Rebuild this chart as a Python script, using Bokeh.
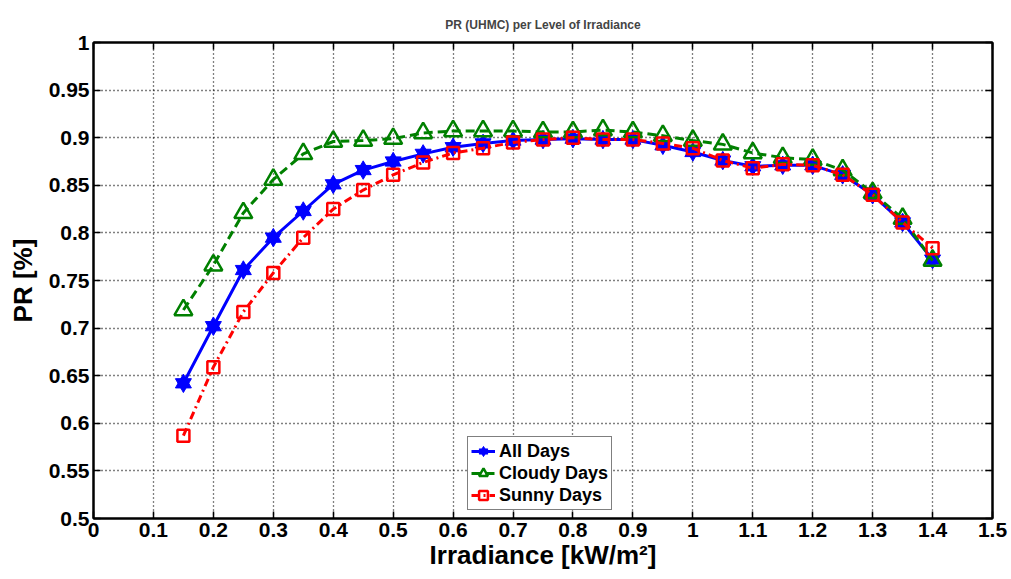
from bokeh.plotting import figure
from bokeh.models import (LinearAxis, FixedTicker, Range1d, Legend, LegendItem,
                          CustomLabelingPolicy)
from bokeh.embed import file_html
from bokeh.resources import INLINE

# ---- data ----
irradiance = [0.15, 0.2, 0.25, 0.3, 0.35, 0.4, 0.45, 0.5, 0.55, 0.6, 0.65, 0.7, 0.75,
              0.8, 0.85, 0.9, 0.95, 1.0, 1.05, 1.1, 1.15, 1.2, 1.25, 1.3, 1.35, 1.4]
all_days = [0.642, 0.702, 0.761, 0.795, 0.823, 0.851, 0.866, 0.875, 0.883, 0.890, 0.894,
            0.897, 0.898, 0.899, 0.898, 0.898, 0.892, 0.885, 0.876, 0.870, 0.871, 0.871,
            0.861, 0.840, 0.811, 0.772]
cloudy_days = [0.719, 0.766, 0.821, 0.856, 0.883, 0.896, 0.897, 0.899, 0.905, 0.907, 0.907,
               0.907, 0.906, 0.906, 0.908, 0.906, 0.902, 0.897, 0.893, 0.884, 0.879, 0.877,
               0.866, 0.842, 0.815, 0.771]
sunny_days = [0.587, 0.659, 0.717, 0.758, 0.795, 0.825, 0.845, 0.861, 0.874, 0.884, 0.889,
              0.895, 0.898, 0.900, 0.898, 0.898, 0.894, 0.889, 0.876, 0.868, 0.872, 0.871,
              0.861, 0.840, 0.811, 0.784]
x_ticks = [0, 0.1, 0.2, 0.3, 0.4, 0.5, 0.6, 0.7, 0.8, 0.9, 1.0, 1.1, 1.2, 1.3, 1.4, 1.5]
x_tick_labels = ["0", "0.1", "0.2", "0.3", "0.4", "0.5", "0.6", "0.7", "0.8", "0.9", "1",
                 "1.1", "1.2", "1.3", "1.4", "1.5"]
y_ticks = [0.5, 0.55, 0.6, 0.65, 0.7, 0.75, 0.8, 0.85, 0.9, 0.95, 1.0]
y_tick_labels = ["0.5", "0.55", "0.6", "0.65", "0.7", "0.75", "0.8", "0.85", "0.9", "0.95", "1"]

FONT = "Liberation Sans"

p = figure(width=1011, height=579, output_backend="svg", toolbar_location=None,
           x_range=Range1d(0, 1.5), y_range=Range1d(0.5, 1.0),
           min_border_left=93, min_border_right=19, min_border_top=42, min_border_bottom=61,
           title="PR (UHMC) per Level of Irradiance")
p.background_fill_color = "white"
p.border_fill_color = "white"
p.outline_line_color = "black"
p.outline_line_width = 2

p.title.align = "center"
p.title.text_font = FONT
p.title.text_font_size = "12px"
p.title.text_font_style = "bold"
p.title.standoff = 14

hide_labels = CustomLabelingPolicy(code="""
try { for (const i of Array.from(indices)) { indices.unset(i) } } catch (e) {}
return indices
""")

def style_axis(ax, ticks, labels, show_labels=True):
    ax.ticker = FixedTicker(ticks=ticks)
    ax.major_label_overrides = {t: l for t, l in zip(ticks, labels)}
    ax.major_tick_in = 7
    ax.major_tick_out = 0
    ax.minor_tick_line_color = None
    ax.major_tick_line_color = "black"
    ax.major_tick_line_width = 1.5
    ax.axis_line_color = "black"
    ax.axis_line_width = 2
    ax.major_label_text_font = FONT
    ax.major_label_text_font_style = "bold"
    ax.major_label_text_color = "black"
    if show_labels:
        ax.major_label_text_font_size = "21px"
    else:
        ax.major_label_text_font_size = "1px"
        ax.major_label_standoff = 0
        ax.major_label_policy = hide_labels

style_axis(p.xaxis[0], x_ticks, x_tick_labels)
style_axis(p.yaxis[0], y_ticks, y_tick_labels)
p.xaxis[0].major_label_standoff = 4
p.yaxis[0].major_label_standoff = 4

p.xaxis[0].axis_label = "Irradiance [kW/m\u00b2]"
p.yaxis[0].axis_label = "PR [%]"
for ax in (p.xaxis[0], p.yaxis[0]):
    ax.axis_label_text_font = FONT
    ax.axis_label_text_font_style = "bold"
    ax.axis_label_text_font_size = "26px"
    ax.axis_label_text_color = "black"
p.xaxis[0].axis_label_standoff = 0
p.yaxis[0].axis_label_standoff = 8

top_ax = LinearAxis()
right_ax = LinearAxis()
style_axis(top_ax, x_ticks, x_tick_labels, show_labels=False)
style_axis(right_ax, y_ticks, y_tick_labels, show_labels=False)
p.add_layout(top_ax, "above")
p.add_layout(right_ax, "right")

for g in (p.xgrid[0], p.ygrid[0]):
    g.grid_line_color = "black"
    g.grid_line_dash = "1 3"
    g.grid_line_width = 1.3
p.xgrid[0].ticker = FixedTicker(ticks=x_ticks)
p.ygrid[0].ticker = FixedTicker(ticks=y_ticks)

# series
blue = "#0000ff"
green = "#008000"
red = "#ff0000"

l_all = p.line(irradiance, all_days, line_color=blue, line_width=3)
s_all1 = p.scatter(irradiance, all_days, marker="triangle", size=16, fill_color=blue,
                   line_color=blue, line_width=1)
s_all2 = p.scatter(irradiance, all_days, marker="inverted_triangle", size=16, fill_color=blue,
                   line_color=blue, line_width=1)

l_cl = p.line(irradiance, cloudy_days, line_color=green, line_width=3, line_dash="9 5")
s_cl = p.scatter(irradiance, cloudy_days, marker="triangle", size=18, fill_color=None,
                 line_color=green, line_width=2.5)

l_su = p.line(irradiance, sunny_days, line_color=red, line_width=3, line_dash="8 4 2 4")
s_su = p.scatter(irradiance, sunny_days, marker="square", size=12, fill_color=None,
                 line_color=red, line_width=2.5)

legend = Legend(items=[
    LegendItem(label="All Days", renderers=[l_all, s_all1, s_all2]),
    LegendItem(label="Cloudy Days", renderers=[l_cl, s_cl]),
    LegendItem(label="Sunny Days", renderers=[l_su, s_su]),
], location=(374, 8))
legend.label_text_font = FONT
legend.label_text_font_style = "bold"
legend.label_text_font_size = "18px"
legend.label_text_color = "black"
legend.border_line_color = "black"
legend.border_line_width = 1
legend.background_fill_color = "white"
legend.background_fill_alpha = 1
legend.padding = 3
legend.spacing = 0
legend.margin = 0
legend.glyph_width = 24
legend.glyph_height = 22
legend.label_height = 22
legend.label_standoff = 4
p.add_layout(legend, "center")

open("out.html", "w").write(file_html(p, INLINE))
